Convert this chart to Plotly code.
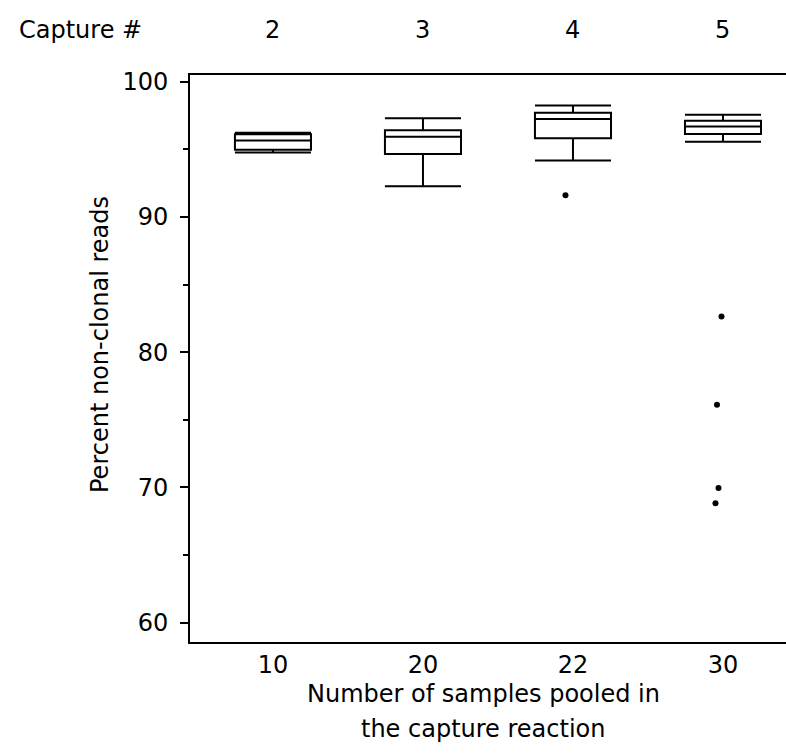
import plotly.graph_objects as go

# ---- data ----
pool_sizes = ["10", "20", "22", "30"]          # x categories
capture_ids = ["2", "3", "4", "5"]             # top labels
lower_whisker = [94.77, 92.28, 94.17, 95.56]
q1 = [94.97, 94.65, 95.83, 96.13]
median = [95.66, 95.93, 97.24, 96.69]
q3 = [96.11, 96.42, 97.71, 97.11]
upper_whisker = [96.23, 97.31, 98.25, 97.56]

outlier_group = [2, 3, 3, 3, 3]                # index into pool_sizes
outlier_value = [91.61, 82.63, 76.11, 69.95, 68.82]
outlier_jitter = [-0.05, -0.01, -0.04, -0.03, -0.05]

y_ticks = [60, 70, 80, 90, 100]

FONT = "DejaVu Sans"
FS = 24

pos = list(range(len(pool_sizes)))

fig = go.Figure()
fig.add_trace(go.Box(
    x=pos, q1=q1, median=median, q3=q3,
    lowerfence=lower_whisker, upperfence=upper_whisker,
    width=0.507, whiskerwidth=1,
    fillcolor="rgba(0,0,0,0)",
    line=dict(color="black", width=2),
    boxpoints=False, showlegend=False, hoverinfo="skip",
))
fig.add_trace(go.Scatter(
    x=[outlier_group[i] + outlier_jitter[i] for i in range(len(outlier_value))],
    y=outlier_value, mode="markers",
    marker=dict(color="black", size=6),
    showlegend=False, hoverinfo="skip",
))

W, H = 786, 756
L, R, T, B = 190, 0, 75, 114
pw, ph = W - L - R, H - T - B

def px_x(px):
    return (px - L) / pw

def px_y(py):
    return (H - B - py) / ph

tf = dict(family=FONT, size=FS, color="black")
annotations = [dict(text="Capture #", xref="paper", yref="paper",
                    x=px_x(80), y=px_y(30), xanchor="center", yanchor="middle",
                    showarrow=False, font=tf)]
for p, c in zip(pos, capture_ids):
    annotations.append(dict(text=c, xref="x", yref="paper", x=p, y=px_y(30),
                            xanchor="center", yanchor="middle", showarrow=False,
                            font=tf))
annotations.append(dict(text="Percent non-clonal reads", xref="paper", yref="paper",
                        x=px_x(100), y=px_y(345), textangle=-90,
                        xanchor="center", yanchor="middle", showarrow=False,
                        font=tf))
annotations.append(dict(text="Number of samples pooled in", xref="paper", yref="paper",
                        x=px_x(483), y=px_y(694), xanchor="center", yanchor="middle",
                        showarrow=False, font=tf))
annotations.append(dict(text="the capture reaction", xref="paper", yref="paper",
                        x=px_x(483), y=px_y(729), xanchor="center", yanchor="middle",
                        showarrow=False, font=tf))

fig.update_layout(
    width=W, height=H,
    margin=dict(l=L, r=R, t=T, b=B, pad=0),
    paper_bgcolor="white", plot_bgcolor="white",
    font=tf,
    annotations=annotations,
    xaxis=dict(range=[-0.553, 3.42], tickvals=pos, ticktext=pool_sizes,
               showline=True, linecolor="black", linewidth=2, mirror=True,
               ticks="", showgrid=False, zeroline=False,
               tickfont=tf),
    yaxis=dict(range=[58.56, 100.5], tickvals=y_ticks,
               showline=True, linecolor="black", linewidth=2, mirror=False,
               ticks="outside", ticklen=8, tickwidth=1.5, tickcolor="black",
               ticklabelstandoff=7,
               minor=dict(dtick=5, ticks="outside", ticklen=5, tickwidth=1.5, tickcolor="black"),
               showgrid=False, zeroline=False,
               tickfont=tf),
)

fig.write_html("out.html")
